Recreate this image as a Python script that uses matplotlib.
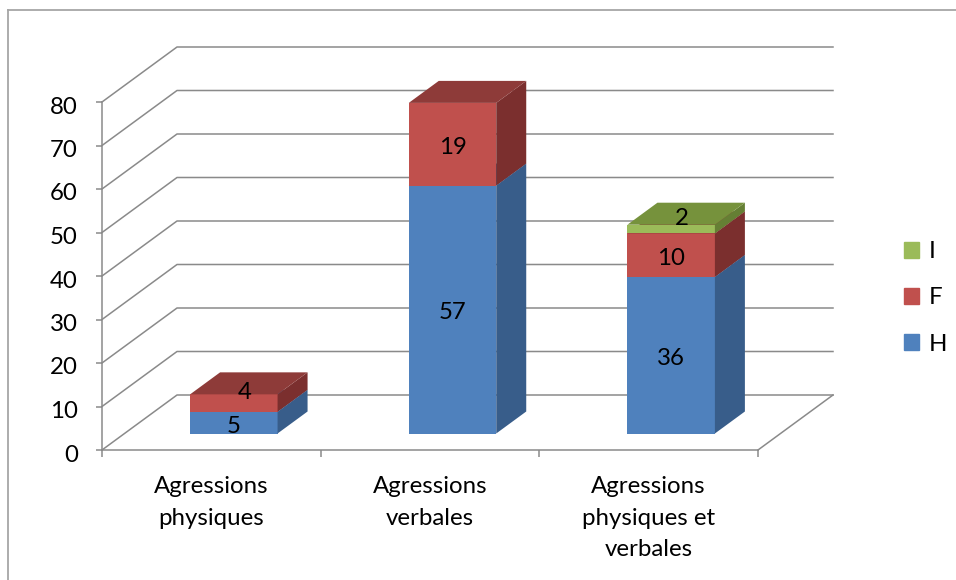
import numpy as np
import matplotlib
matplotlib.use('Agg')
import matplotlib.pyplot as plt
from matplotlib.patches import Polygon, Patch
from matplotlib.lines import Line2D
from matplotlib.transforms import ScaledTranslation

categories=['Agressions\nphysiques','Agressions\nverbales','Agressions\nphysiques et\nverbales']
series=['H','F','I']
H=[5,57,36]
F=[4,19,10]
I=[0,0,2]
yticks=[0,10,20,30,40,50,60,70,80]

front={'H':'#4F81BD','F':'#C0504D','I':'#9BBB59'}
top={'H':'#3F6797','F':'#8E3B39','I':'#76923C'}
side={'H':'#385D8A','F':'#7B2F2E','I':'#657F34'}
GRID='#8A8A8A'
FS=17.3
plt.rcParams['font.family']=['Lato','DejaVu Sans']

W,HP=956,580
fig=plt.figure(figsize=(W/100,HP/100),dpi=100)
# pixel frame of the front floor edge / value axis
X0,X3,Y0,Y80=102,758,450,102
sx=(X3-X0)/3; sy=(Y0-Y80)/80
AX_R,AX_T=845,35
ax=fig.add_axes([X0/W,(HP-Y0)/HP,(AX_R-X0)/W,(Y0-AX_T)/HP])
ax.set_xlim(0,(AX_R-X0)/sx); ax.set_ylim(0,(Y0-AX_T)/sy)
ax.patch.set_alpha(0)
DX=75/sx; DY=55/sy   # oblique depth of the floor
def proj(x,v,z): return (x+z*DX, v+z*DY)

# walls: side-wall diagonals + back-wall gridlines
for v in yticks:
    ax.plot([0,DX,3+DX],[v,v+DY,v+DY],color=GRID,lw=1.1,zorder=1,clip_on=False)
ax.plot([3,3+DX],[0,DY],color=GRID,lw=1.1,zorder=1,clip_on=False)

# 3d stacked columns
z0,z1=0.3,0.7; bw=0.4
xs=np.arange(len(categories))+0.5
bottom=np.zeros(len(categories))
for k,(s,vals) in enumerate(zip(series,[H,F,I])):
    vals=np.array(vals,float); zo=3+k
    ax.bar(xs+z0*DX,vals,width=bw,bottom=bottom+z0*DY,color=front[s],zorder=zo,linewidth=0)
    for i in range(len(xs)):
        if vals[i]==0: continue
        b=bottom[i]; t=b+vals[i]; xl=xs[i]-bw/2; xr=xs[i]+bw/2
        ax.add_patch(Polygon([proj(xr,b,z0),proj(xr,b,z1),proj(xr,t,z1),proj(xr,t,z0)],
                             closed=True,facecolor=side[s],lw=0,zorder=zo))
        ax.add_patch(Polygon([proj(xl,t,z0),proj(xr,t,z0),proj(xr,t,z1),proj(xl,t,z1)],
                             closed=True,facecolor=top[s],lw=0,zorder=zo))
        off=(8,7.5) if vals[i]<=4 else (0,-2.5)
        ax.annotate(f'{vals[i]:.0f}',proj(xs[i],b+vals[i]/2,z0),xytext=off,textcoords='offset points',
                    ha='center',va='center',fontsize=FS,color='black',zorder=10)
    bottom=bottom+vals

for sp in ['top','right']: ax.spines[sp].set_visible(False)
for sp in ['left','bottom']:
    ax.spines[sp].set_color(GRID); ax.spines[sp].set_linewidth(1.1)
ax.spines['left'].set_bounds(0,80); ax.spines['bottom'].set_bounds(0,3)
ax.set_yticks(yticks)
ax.tick_params(axis='y',length=4.5,width=1.1,color=GRID,pad=13,labelsize=FS)
shift=ScaledTranslation(0,-3/100,fig.dpi_scale_trans)
for lb in ax.get_yticklabels(): lb.set_transform(lb.get_transform()+shift)
ax.set_xticks([0,1,2,3],['','','',''])
ax.set_xticks(xs,categories,minor=True)
ax.tick_params(axis='x',which='major',length=5,width=1.1,color=GRID)
ax.tick_params(axis='x',which='minor',length=0,pad=19,labelsize=FS)
for lb in ax.get_xticklabels(minor=True): lb.set_linespacing(1.62)

handles=[Patch(color=front['I']),Patch(color=front['F']),Patch(color=front['H'])]
fig.legend(handles,['I','F','H'],loc='center left',bbox_to_anchor=(904/W,1-298/HP),frameon=False,
           fontsize=FS,handlelength=0.62,handleheight=0.62,handletextpad=0.4,labelspacing=1.05,
           borderpad=0,borderaxespad=0)

# chart area border (only top/left fall inside the picture)
fig.add_artist(Line2D([8/W,8/W],[0,1-10/HP],color='#A6A6A6',lw=1.3))
fig.add_artist(Line2D([8/W,1],[1-10/HP,1-10/HP],color='#A6A6A6',lw=1.3))

fig.savefig('out.png',dpi=100)
